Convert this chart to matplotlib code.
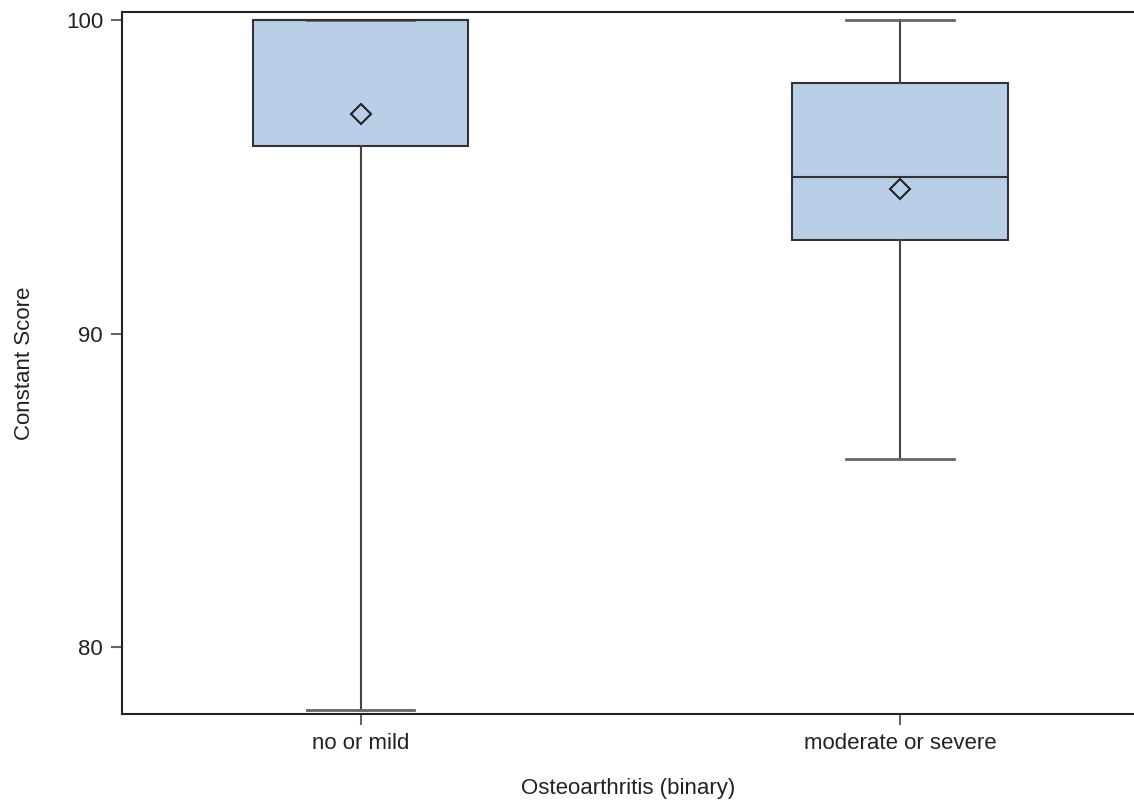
import matplotlib
matplotlib.use("Agg")
import matplotlib.pyplot as plt

plt.rcParams['font.family'] = ['Liberation Sans', 'DejaVu Sans']

# 박스플롯 요약값
groups = ['no or mild', 'moderate or severe']
whisker_low = [78, 86]
q1 = [96, 93]
median = [100, 95]
q3 = [100, 98]
whisker_high = [100, 100]
means = [97, 94.6]

stats = []
for i, name in enumerate(groups):
    stats.append({
        'label': name,
        'whislo': whisker_low[i],
        'q1': q1[i],
        'med': median[i],
        'q3': q3[i],
        'whishi': whisker_high[i],
        'mean': means[i],
        'fliers': [],
    })

fig = plt.figure(figsize=(11.34, 8), dpi=100)
ax = fig.add_axes([0.108, 0.1075, 0.892, 0.8775])

box_fill = '#b9cfe7'
edge = '#333333'
ax.bxp(stats, positions=[0, 1], widths=0.4, patch_artist=True,
       showmeans=True, showfliers=False,
       boxprops=dict(facecolor=box_fill, edgecolor=edge, linewidth=1.5),
       medianprops=dict(color=edge, linewidth=1.5),
       whiskerprops=dict(color='#444444', linewidth=1.5),
       capprops=dict(color='#666666', linewidth=2),
       meanprops=dict(marker='D', markerfacecolor='none',
                      markeredgecolor='#222222', markersize=10,
                      markeredgewidth=1.5))

ax.set_xlim(-0.441, 1.433)
ax.set_ylim(77.86, 100.26)
ax.set_yticks([80, 90, 100])
ax.set_xticks([0, 1])
ax.set_xticklabels(groups)

for s in ['left', 'top', 'bottom']:
    ax.spines[s].set_color('#222222')
    ax.spines[s].set_linewidth(1.5)
ax.spines['right'].set_visible(False)

ax.tick_params(axis='both', colors='#666666', labelcolor='#222222',
               length=8, width=1.5, labelsize=16, pad=6)
ax.set_ylabel('Constant Score', fontsize=16, color='#222222', labelpad=22)
ax.set_xlabel('Osteoarthritis (binary)', fontsize=16, color='#222222', labelpad=17)

fig.savefig('out.png', dpi=100)
plt.close(fig)
